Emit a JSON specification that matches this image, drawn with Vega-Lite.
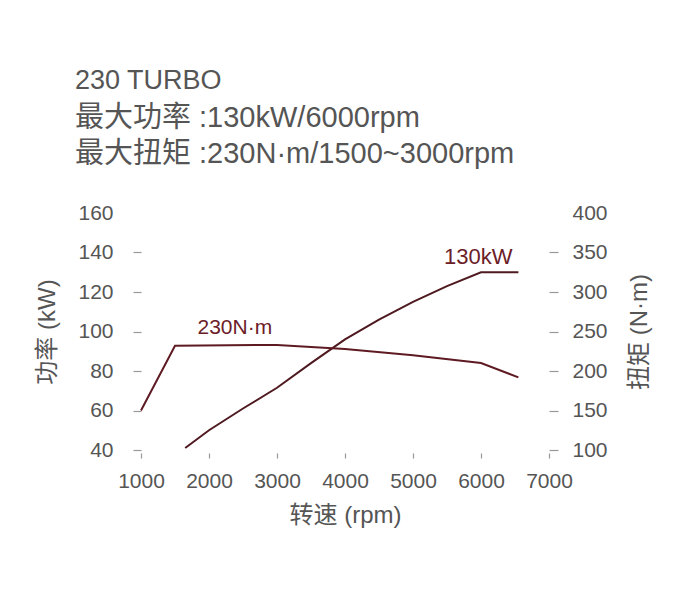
{
  "$schema": "https://vega.github.io/schema/vega-lite/v6.json",
  "width": 408,
  "height": 237,
  "autosize": {"type": "none"},
  "padding": {"left": 141, "top": 213, "right": 141, "bottom": 152},
  "background": "white",
  "title": {
    "text": "230 TURBO",
    "subtitle": ["最大功率 :130kW/6000rpm", "最大扭矩 :230N·m/1500~3000rpm"],
    "anchor": "start",
    "frame": "group",
    "dx": -66,
    "offset": 32,
    "font": "Liberation Sans, Noto Sans CJK SC",
    "fontSize": 27,
    "fontWeight": "normal",
    "color": "#555555",
    "subtitleFont": "Liberation Sans, Noto Sans CJK SC",
    "subtitleFontSize": 29,
    "subtitleColor": "#555555",
    "subtitlePadding": 9,
    "subtitleLineHeight": 36
  },
  "config": {
    "view": {"stroke": null},
    "axis": {
      "domain": false,
      "grid": false,
      "labelFont": "Liberation Sans",
      "labelFontSize": 21,
      "labelColor": "#555555",
      "labelOverlap": false,
      "labelFlush": false,
      "titleFont": "Liberation Sans, Noto Sans CJK SC",
      "titleFontSize": 24,
      "titleFontWeight": "normal",
      "titleColor": "#555555",
      "tickColor": "#999999",
      "tickWidth": 1.2
    }
  },
  "resolve": {"scale": {"y": "independent"}},
  "layer": [
    {
      "encoding": {
        "x": {
          "field": "rpm", "type": "quantitative",
          "scale": {"domain": [1000, 7000], "nice": false},
          "axis": {
            "values": [1000, 2000, 3000, 4000, 5000, 6000, 7000],
            "format": "d",
            "title": "转速 (rpm)",
            "offset": 3,
            "tickSize": 5,
            "labelPadding": 12,
            "titlePadding": 12,
            "labelOverlap": false,
            "labelFlush": false
          }
        },
        "y": {
          "field": "kw", "type": "quantitative",
          "scale": {"domain": [40, 160], "nice": false, "zero": false},
          "axis": {
            "orient": "left",
            "values": [40, 60, 80, 100, 120, 140, 160],
            "tickCount": 7,
            "title": "功率 (kW)",
            "tickSize": 8,
            "labelPadding": 20,
            "titlePadding": 18,
            "labelOverlap": false,
            "labelFlush": false,
            "tickOpacity": {"expr": "datum.value == 160 ? 0 : 1"}
          }
        }
      },
      "layer": [
        {
          "data": {"values": [
            {"rpm": 1650, "kw": 41},
            {"rpm": 2000, "kw": 50},
            {"rpm": 2500, "kw": 61},
            {"rpm": 3000, "kw": 71.5},
            {"rpm": 3500, "kw": 84},
            {"rpm": 4000, "kw": 96},
            {"rpm": 4500, "kw": 106},
            {"rpm": 5000, "kw": 115},
            {"rpm": 5500, "kw": 123},
            {"rpm": 6000, "kw": 130},
            {"rpm": 6550, "kw": 130}
          ]},
          "mark": {"type": "line", "color": "#4e1a20", "strokeWidth": 2}
        },
        {
          "data": {"values": [{"rpm": 5960, "kw": 137.5, "label": "130kW"}]},
          "mark": {"type": "text", "font": "Liberation Sans", "fontSize": 22, "color": "#6b2028", "baseline": "middle", "align": "center"},
          "encoding": {"text": {"field": "label"}}
        }
      ]
    },
    {
      "encoding": {
        "x": {"field": "rpm", "type": "quantitative"},
        "y": {
          "field": "nm", "type": "quantitative",
          "scale": {"domain": [100, 400], "nice": false, "zero": false},
          "axis": {
            "orient": "right",
            "values": [100, 150, 200, 250, 300, 350, 400],
            "tickCount": 7,
            "title": "扭矩 (N·m)",
            "tickSize": 9,
            "labelPadding": 14,
            "titlePadding": 20,
            "titleAngle": -90,
            "titleBaseline": "top",
            "labelOverlap": false,
            "labelFlush": false,
            "tickOpacity": {"expr": "datum.value == 400 ? 0 : 1"}
          }
        }
      },
      "layer": [
        {
          "data": {"values": [
            {"rpm": 1000, "nm": 150},
            {"rpm": 1500, "nm": 232},
            {"rpm": 3000, "nm": 233},
            {"rpm": 4000, "nm": 228},
            {"rpm": 5000, "nm": 220},
            {"rpm": 6000, "nm": 210},
            {"rpm": 6550, "nm": 192}
          ]},
          "mark": {"type": "line", "color": "#5e1a22", "strokeWidth": 2}
        },
        {
          "data": {"values": [{"rpm": 2380, "nm": 254, "label": "230N·m"}]},
          "mark": {"type": "text", "font": "Liberation Sans", "fontSize": 21, "color": "#6b2028", "baseline": "middle", "align": "center"},
          "encoding": {"text": {"field": "label"}}
        }
      ]
    }
  ]
}
